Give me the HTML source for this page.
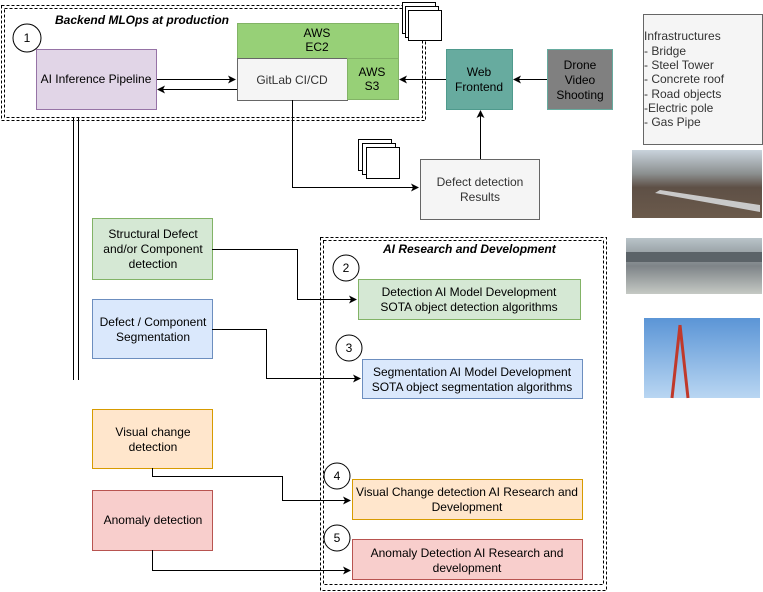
<!DOCTYPE html>
<html><head><meta charset="utf-8"><style>
body{margin:0;background:#fff}
svg{display:block;font-family:"Liberation Sans",sans-serif}
</style></head><body>
<svg width="763" height="592" viewBox="0 0 763 592" xmlns="http://www.w3.org/2000/svg">
<defs>
<marker id="a" markerWidth="8" markerHeight="8" refX="7" refY="4" orient="auto" markerUnits="userSpaceOnUse"><path d="M0,0 L8,4 L0,8 L2,4 z" fill="#000"/></marker>
<linearGradient id="sky" x1="0" y1="0" x2="0" y2="1"><stop offset="0" stop-color="#c9d3dc"/><stop offset="0.35" stop-color="#8b8f8f"/><stop offset="0.55" stop-color="#5e5046"/><stop offset="1" stop-color="#6b5a4b"/></linearGradient>
<linearGradient id="br" x1="0" y1="0" x2="0" y2="1"><stop offset="0" stop-color="#b9c4c9"/><stop offset="0.5" stop-color="#7e8488"/><stop offset="1" stop-color="#c5c9c4"/></linearGradient>
<linearGradient id="tw" x1="0" y1="0" x2="0" y2="1"><stop offset="0" stop-color="#5b95d6"/><stop offset="1" stop-color="#b9d6f2"/></linearGradient>
</defs>
<g fill="none" stroke="#000" stroke-dasharray="3,2">
<rect x="1.5" y="5.5" width="424" height="115"/>
<rect x="4.5" y="8.5" width="418" height="109"/>
<rect x="320.5" y="237.5" width="286" height="353"/>
<rect x="323.5" y="240.5" width="280" height="344"/>
</g>
<text x="55" y="24" font-size="12" font-weight="bold" font-style="italic">Backend MLOps at production</text>
<text x="383" y="253" font-size="12" font-weight="bold" font-style="italic">AI Research and Development</text>
<g stroke="#000" fill="#fff"><circle cx="27" cy="38" r="14"/><circle cx="346" cy="268" r="13"/><circle cx="349" cy="348" r="13"/><circle cx="337" cy="476" r="13"/><circle cx="337" cy="538" r="13"/></g>
<g font-size="12" text-anchor="middle"><text x="27" y="42">1</text><text x="346" y="272">2</text><text x="349" y="352">3</text><text x="337" y="480">4</text><text x="337" y="542">5</text></g>
<rect x="36.5" y="49.5" width="120" height="60" fill="#e1d5e7" stroke="#9673a6"/>
<rect x="237.5" y="23.5" width="161" height="35" fill="#97d077" stroke="#82b366"/>
<rect x="237.5" y="58.5" width="110" height="42" fill="#f5f5f5" stroke="#666"/>
<rect x="347.5" y="58.5" width="51" height="41" fill="#97d077" stroke="#82b366"/>
<g fill="#fff" stroke="#000"><rect x="402.5" y="2.5" width="33" height="31"/><rect x="405.5" y="6.5" width="33" height="31"/><rect x="408.5" y="10.5" width="33" height="30"/>
<rect x="358.5" y="139.5" width="33" height="31"/><rect x="362.5" y="143.5" width="33" height="31"/><rect x="366.5" y="147.5" width="33" height="31"/></g>
<rect x="446.5" y="49.5" width="66" height="60" fill="#67ab9f" stroke="#4f9a8d"/>
<rect x="547.5" y="49.5" width="65" height="60" fill="#808080" stroke="#67ab9f"/>
<rect x="643.5" y="14.5" width="119" height="130" fill="#f5f5f5" stroke="#666"/>
<rect x="420.5" y="159.5" width="119" height="60" fill="#f5f5f5" stroke="#666"/>
<rect x="632" y="150" width="130" height="68" fill="url(#sky)"/>
<path d="M660 190 L760 205 L760 212 L655 193z" fill="#c9c9c9"/>
<rect x="626" y="238" width="136" height="56" fill="url(#br)"/>
<path d="M626 252 L762 252 L762 262 L626 262z" fill="#5b6368"/>
<rect x="644" y="318" width="116" height="80" fill="url(#tw)"/>
<path d="M680 325 L672 398 M680 325 L688 398" stroke="#c0392b" stroke-width="3"/>
<rect x="92.5" y="218.5" width="120" height="61" fill="#d5e8d4" stroke="#82b366"/>
<rect x="92.5" y="299.5" width="120" height="59" fill="#dae8fc" stroke="#6c8ebf"/>
<rect x="92.5" y="409.5" width="120" height="59" fill="#ffe6cc" stroke="#d79b00"/>
<rect x="92.5" y="490.5" width="120" height="60" fill="#f8cecc" stroke="#b85450"/>
<rect x="358.5" y="279.5" width="222" height="40" fill="#d5e8d4" stroke="#82b366"/>
<rect x="362.5" y="359.5" width="220" height="39" fill="#dae8fc" stroke="#6c8ebf"/>
<rect x="352.5" y="479.5" width="230" height="40" fill="#ffe6cc" stroke="#d79b00"/>
<rect x="352.5" y="539.5" width="230" height="40" fill="#f8cecc" stroke="#b85450"/>
<g stroke="#000" fill="none">
<path d="M157 79.5 H235" marker-end="url(#a)"/>
<path d="M237 89.5 H158" marker-end="url(#a)"/>
<path d="M446 79.5 H400" marker-end="url(#a)"/>
<path d="M547 79.5 H514" marker-end="url(#a)"/>
<path d="M480.5 159 V111" marker-end="url(#a)"/>
<path d="M292.5 100 V187.5 H418" marker-end="url(#a)"/>
<path d="M73.5 117 V380 M78.5 117 V380"/>
<path d="M212 249.5 H297.5 V299.5 H356" marker-end="url(#a)"/>
<path d="M212 329.5 H266.5 V378.5 H360" marker-end="url(#a)"/>
<path d="M152.5 468 V476.5 H282.5 V500.5 H350" marker-end="url(#a)"/>
<path d="M152.5 550 V570.5 H350" marker-end="url(#a)"/>
</g>
<g font-size="12" text-anchor="middle" fill="#000">
<text x="96" y="83">AI Inference Pipeline</text>
<text x="317" y="37">AWS</text><text x="317" y="51">EC2</text>
<text x="292" y="84" fill="#333">GitLab CI/CD</text>
<text x="372" y="76">AWS</text><text x="372" y="90">S3</text>
<text x="479" y="76">Web</text><text x="479" y="91">Frontend</text>
<text x="580" y="69">Drone</text><text x="580" y="84">Video</text><text x="580" y="99">Shooting</text>
<text x="480" y="186" fill="#333">Defect detection</text><text x="480" y="201" fill="#333">Results</text>
<text x="153" y="238">Structural Defect</text><text x="153" y="253">and/or Component</text><text x="153" y="268">detection</text>
<text x="153" y="326">Defect / Component</text><text x="153" y="341">Segmentation</text>
<text x="153" y="436">Visual change</text><text x="153" y="451">detection</text>
<text x="153" y="524">Anomaly detection</text>
<text x="469" y="296">Detection AI Model Development</text><text x="469" y="311">SOTA object detection algorithms</text>
<text x="472" y="376">Segmentation AI Model Development</text><text x="472" y="391">SOTA object segmentation algorithms</text>
<text x="467" y="496">Visual Change detection AI Research and</text><text x="467" y="511">Development</text>
<text x="467" y="557">Anomaly Detection AI Research and</text><text x="467" y="572">development</text>
</g>
<g font-size="12" fill="#333">
<text x="644" y="40">Infrastructures</text><text x="644" y="55">- Bridge</text><text x="644" y="69">- Steel Tower</text><text x="644" y="83">- Concrete roof</text><text x="644" y="98">- Road objects</text><text x="644" y="112">-Electric pole</text><text x="644" y="126">- Gas Pipe</text>
</g>
</svg>
</body></html>
